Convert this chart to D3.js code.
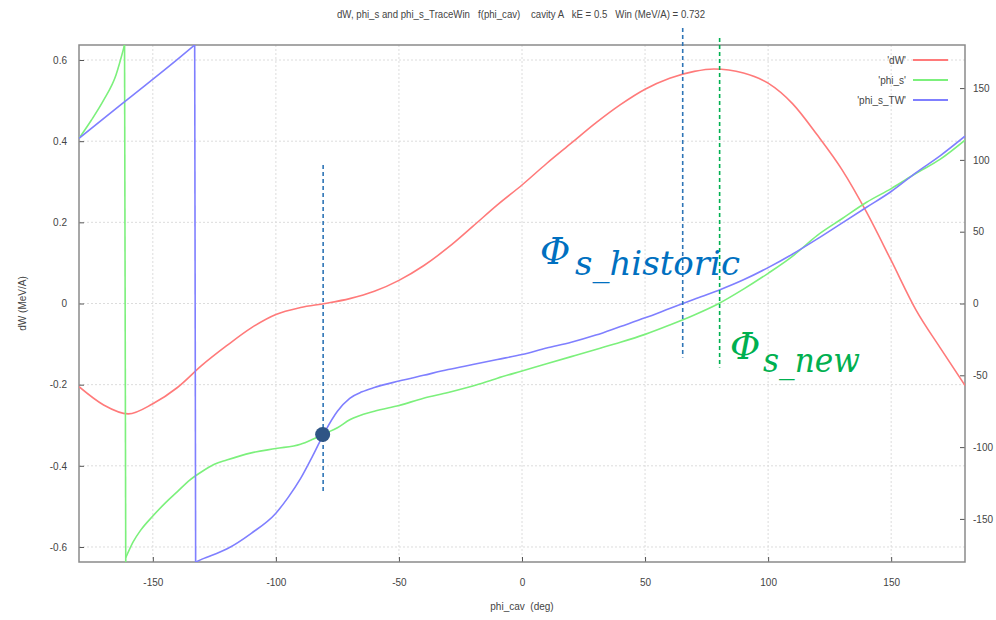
<!DOCTYPE html>
<html>
<head>
<meta charset="utf-8">
<script src="https://cdn.jsdelivr.net/npm/d3@7"></script>
<style>
  body { margin: 0; background: #fff; }
  svg { font-family: "Liberation Sans", Arial, sans-serif; }
  .tick-label { font-size: 10px; fill: #444; }
</style>
</head>
<body>
<svg id="chart" width="996" height="620"></svg>
<script>
// dW (left axis, MeV/A) against phi_cav
var DW_PHI = [-180,-170,-160,-150,-140,-130,-120,-110,-100,-90,-80,-70,-60,-50,-40,-30,-20,-10,0,10,20,30,40,50,60,70,78,90,100,110,120,130,140,150,160,170,180];
var DW = [-0.205,-0.25,-0.272,-0.247,-0.207,-0.152,-0.104,-0.06,-0.027,-0.01,0.0,0.012,0.03,0.057,0.093,0.138,0.19,0.243,0.292,0.345,0.395,0.445,0.49,0.528,0.555,0.572,0.578,0.568,0.543,0.492,0.415,0.33,0.225,0.106,-0.015,-0.11,-0.202];

// phi_s (right axis, deg)
var PHIS_PHI = [-180,-175,-170,-165,-161.5,-161,-158,-155,-150,-145,-140,-135,-130,-125,-120,-110,-100,-90,-85,-80,-75,-70,-60,-50,-40,-30,-20,-10,0,10,20,30,40,50,60,70,80,90,100,110,120,130,140,150,160,170,180];
var PHIS = [115,127.6,141.6,159,180,-177,-166,-158,-148,-139,-131,-123,-117,-112,-109,-104,-101,-98,-94.5,-90.5,-86.5,-81,-75,-71,-66,-62,-57.5,-52,-47,-42,-37,-32,-27,-21.5,-15,-8,0,10,21,33,47.5,59,70.5,80,90.5,100.5,113.7];

// phi_s_TW (right axis, deg)
var PHITW_PHI = [-180,-160,-140,-133,-132.6,-130,-120,-110,-100,-95,-90,-85,-80,-75,-70,-65,-60,-50,-40,-30,-20,-10,0,10,20,30,40,50,60,70,80,90,100,110,120,130,140,150,160,170,180];
var PHITW = [115,142.5,170,180,-180,-178,-171,-160,-146,-135,-122,-106,-89,-75,-66,-61.5,-58.5,-54,-50,-46,-42.5,-39,-35.5,-31,-27,-22,-16,-10,-3.5,3,9.3,16.5,25,34.5,45,56,67,78,91,103,116.5];

var X_TICKS = [-150,-100,-50,0,50,100,150];
var YL_TICKS = [-0.6,-0.4,-0.2,0,0.2,0.4,0.6];
var YR_TICKS = [-150,-100,-50,0,50,100,150];

var SERIES = ["'dW'", "'phi_s'", "'phi_s_TW'"];
var COLORS = ["#ff7a7a", "#7cf07c", "#7f7fff"];

// marked points / dashed guides (phi_cav, dW range)
var GUIDES = [
  {phi: -80.8, top: 0.341, bottom: -0.469, color: "#2e75b6"},
  {phi: 65.3, top: 0.679, bottom: -0.133, color: "#2e75b6"},
  {phi: 80.3, top: 0.654, bottom: -0.158, color: "#00b050"}
];
var DOT = {phi: -81, phis: -91.2};

document.addEventListener("DOMContentLoaded", function() {
  drawChart();
});

function toPoints(xs, ys) {
  return xs.map(function(x, i) { return [x, ys[i]]; });
}

// split where a phase wraps from +180 to -180
function splitWrap(pts) {
  var segs = [[pts[0]]];
  for (var i = 1; i < pts.length; i++) {
    if (Math.abs(pts[i][1] - pts[i-1][1]) > 180) segs.push([]);
    segs[segs.length-1].push(pts[i]);
  }
  return segs;
}

// plain hyphen for negatives, like the original plot
function fmt(f) {
  return function(d) { return f(d).replace("\u2212", "-"); };
}

function drawChart() {
  const svg = d3.select("#chart");
  const left = 79, right = 965, top = 45, bottom = 562;

  const x = d3.scaleLinear().domain([-180, 180]).range([left, right]);
  const yL = d3.scaleLinear().domain([-0.637, 0.637]).range([bottom, top]);
  const yR = d3.scaleLinear().domain([-180, 180]).range([bottom, top]);

  svg.append("defs").append("clipPath").attr("id", "plot-clip")
    .append("rect").attr("x", left).attr("y", top)
    .attr("width", right - left).attr("height", bottom - top);

  // grid
  const grid = svg.append("g").attr("stroke", "#dcdcdc").attr("stroke-width", 1)
    .attr("stroke-dasharray", "2,2");
  grid.selectAll(".gx").data(X_TICKS).enter().append("line")
    .attr("x1", (d) => x(d)).attr("x2", (d) => x(d))
    .attr("y1", top).attr("y2", bottom);
  grid.selectAll(".gy").data(YL_TICKS).enter().append("line")
    .attr("x1", left).attr("x2", right)
    .attr("y1", (d) => yL(d)).attr("y2", (d) => yL(d));

  // axes
  const axB = svg.append("g").attr("transform", "translate(0," + bottom + ")")
    .call(d3.axisBottom(x).tickValues(X_TICKS).tickSizeInner(-5).tickSizeOuter(0).tickPadding(17)
      .tickFormat(fmt(d3.format("d"))));
  const axL = svg.append("g").attr("transform", "translate(" + left + ",0)")
    .call(d3.axisLeft(yL).tickValues(YL_TICKS).tickSizeInner(-5).tickSizeOuter(0).tickPadding(12)
      .tickFormat(fmt((d) => d === 0 ? "0" : d3.format(".1f")(d))));
  const axR = svg.append("g").attr("transform", "translate(" + right + ",0)")
    .call(d3.axisRight(yR).tickValues(YR_TICKS).tickSizeInner(-5).tickSizeOuter(0).tickPadding(8)
      .tickFormat(fmt(d3.format("d"))));
  [axB, axL, axR].forEach(function(a) {
    a.select(".domain").remove();
    a.selectAll(".tick line").attr("stroke", "#555");
    a.selectAll(".tick text").attr("class", "tick-label").attr("font-family", null).attr("font-size", null);
  });

  // frame
  svg.append("rect").attr("x", left).attr("y", top)
    .attr("width", right - left).attr("height", bottom - top)
    .attr("fill", "none").attr("stroke", "#8a8a8a").attr("stroke-width", 1.5);

  // curves
  const plot = svg.append("g").attr("clip-path", "url(#plot-clip)")
    .attr("fill", "none").attr("stroke-width", 1.6);
  const lineL = d3.line().x((d) => x(d[0])).y((d) => yL(d[1])).curve(d3.curveMonotoneX);
  const lineR = d3.line().x((d) => x(d[0])).y((d) => yR(d[1])).curve(d3.curveMonotoneX);
  const straightR = d3.line().x((d) => x(d[0])).y((d) => yR(d[1]));

  plot.append("path").attr("d", lineL(toPoints(DW_PHI, DW))).attr("stroke", COLORS[0]);

  [[PHIS_PHI, PHIS, COLORS[1]], [PHITW_PHI, PHITW, COLORS[2]]].forEach(function(s) {
    var segs = splitWrap(toPoints(s[0], s[1]));
    segs.forEach(function(seg, i) {
      plot.append("path").attr("d", lineR(seg)).attr("stroke", s[2]);
      if (i > 0) {
        var a = segs[i-1][segs[i-1].length-1], b = seg[0];
        plot.append("path").attr("d", straightR([[a[0], 185], [b[0], -185]])).attr("stroke", s[2]);
      }
    });
  });

  // legend
  const lg = svg.append("g").attr("class", "legend");
  SERIES.forEach(function(name, i) {
    var yy = 60 + i * 20;
    lg.append("text").attr("x", 906).attr("y", yy).attr("dy", "0.35em")
      .attr("text-anchor", "end").attr("class", "tick-label").text(name);
    lg.append("line").attr("x1", 913).attr("x2", 948).attr("y1", yy).attr("y2", yy)
      .attr("stroke", COLORS[i]).attr("stroke-width", 1.8);
  });

  // titles
  svg.append("text").attr("x", 337).attr("y", 18)
    .attr("class", "tick-label").style("white-space", "pre")
    .attr("textLength", 368).attr("lengthAdjust", "spacingAndGlyphs")
    .text("dW, phi_s and phi_s_TraceWin   f(phi_cav)    cavity A   kE = 0.5   Win (MeV/A) = 0.732");
  svg.append("text").attr("x", 522).attr("y", 610).attr("text-anchor", "middle")
    .attr("class", "tick-label").style("white-space", "pre").text("phi_cav  (deg)");
  svg.append("text").attr("transform", "translate(26," + yL(0) + ") rotate(-90)")
    .attr("text-anchor", "middle").attr("class", "tick-label").text("dW (MeV/A)");

  // dashed guides
  svg.selectAll(".guide").data(GUIDES).enter().append("line")
    .attr("x1", (d) => x(d.phi)).attr("x2", (d) => x(d.phi))
    .attr("y1", (d) => yL(d.top)).attr("y2", (d) => yL(d.bottom))
    .attr("stroke", (d) => d.color).attr("stroke-width", 1.6)
    .attr("stroke-dasharray", "4,3");

  svg.append("circle").attr("cx", x(DOT.phi)).attr("cy", yR(DOT.phis)).attr("r", 7.5)
    .attr("fill", "#2f5585");

  // phase labels
  addPhi(svg, 540, 264, "s_historic", 575, 275, 165, "#0070c0");
  addPhi(svg, 730, 359, "s_new", 763, 372, 97, "#00b050");
}

function addPhi(svg, px, py, sub, sx, sy, sw, color) {
  svg.append("text").attr("x", px).attr("y", py)
    .attr("font-family", "DejaVu Serif, serif").attr("font-style", "italic")
    .attr("font-size", 37).attr("fill", color).text("Φ");
  svg.append("text").attr("x", sx).attr("y", sy)
    .attr("font-family", "DejaVu Serif, serif").attr("font-style", "italic")
    .attr("font-size", 33).attr("fill", color)
    .attr("textLength", sw).attr("lengthAdjust", "spacingAndGlyphs").text(sub);
}
</script>
</body>
</html>
